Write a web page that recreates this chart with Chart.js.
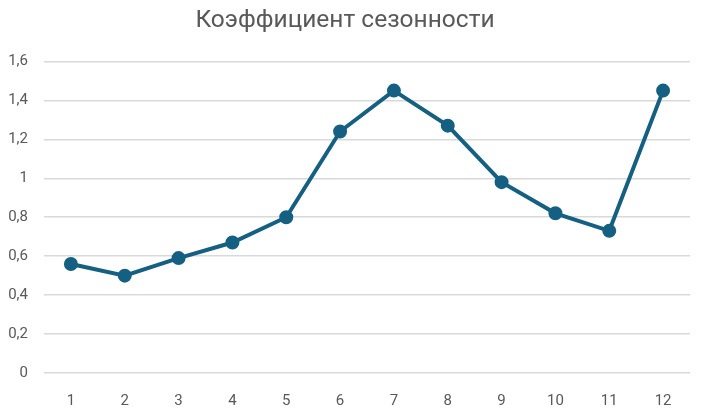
<!DOCTYPE html>
<html>
<head>
<meta charset="utf-8">
<script src="https://cdn.jsdelivr.net/npm/chart.js@4"></script>
<style>
  html, body { margin: 0; padding: 0; background: #fff; }
  #wrap { width: 702px; height: 411px; }
</style>
</head>
<body>
<div id="wrap"><canvas id="chart"></canvas></div>
<script>
const TITLE = "Коэффициент сезонности";
const MONTHS = ["1", "2", "3", "4", "5", "6", "7", "8", "9", "10", "11", "12"];
const SEASON_COEF = [0.56, 0.50, 0.59, 0.67, 0.80, 1.24, 1.45, 1.27, 0.98, 0.82, 0.73, 1.45];

const TEXT_COLOR = "#595959";
const LINE_COLOR = "#156082";
const GRID_COLOR = "#d9d9d9";
const FONT = "Roboto, 'Open Sans', sans-serif";

new Chart(document.getElementById("chart"), {
    type: "line",
    data: {
        labels: MONTHS,
        datasets: [{
            data: SEASON_COEF,
            borderColor: LINE_COLOR,
            backgroundColor: LINE_COLOR,
            borderWidth: 4,
            pointRadius: 5,
            pointHoverRadius: 5,
            tension: 0,
        }],
    },
    options: {
        responsive: true,
        maintainAspectRatio: false,
        animation: false,
        layout: { padding: { left: 0, right: 12, top: 0, bottom: 0 } },
        plugins: {
            legend: { display: false },
            tooltip: { enabled: false },
            title: {
                display: true,
                text: TITLE,
                color: TEXT_COLOR,
                font: { family: FONT, size: 24.5, weight: "normal" },
                padding: { top: 6, bottom: 26 },
            },
        },
        scales: {
            x: {
                offset: true,
                grid: { display: false },
                border: { display: false },
                afterFit: (scale) => { scale.height = 38; },
                ticks: {
                    color: TEXT_COLOR,
                    font: { family: FONT, size: 15 },
                    padding: 11,
                },
            },
            y: {
                min: 0,
                max: 1.6,
                border: { display: false },
                grid: { color: GRID_COLOR, lineWidth: 1.5, drawTicks: false },
                afterFit: (scale) => { scale.width = 44; },
                ticks: {
                    stepSize: 0.2,
                    color: TEXT_COLOR,
                    font: { family: FONT, size: 15 },
                    padding: 16,
                    callback: (v) => String(Math.round(v * 10) / 10).replace(".", ","),
                },
            },
        },
    },
});
</script>
</body>
</html>
